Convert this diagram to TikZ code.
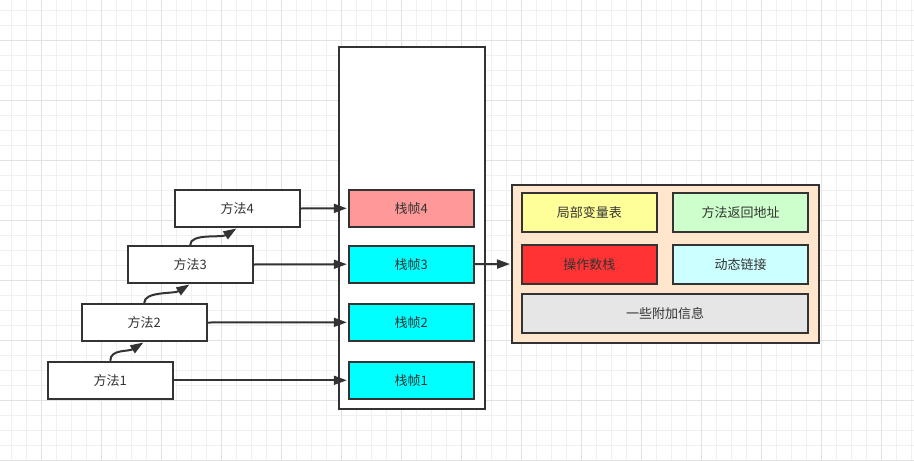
\documentclass[tikz,border=0pt]{standalone}
\usepackage{fontspec}
\newfontfamily\cjk{Noto Sans CJK SC}
\usetikzlibrary{arrows.meta}
\definecolor{ink}{HTML}{333333}
\definecolor{gridminor}{HTML}{F0F0F0}
\definecolor{gridmajor}{HTML}{E2E2E2}
\definecolor{framered}{HTML}{FF9999}
\definecolor{framecyan}{HTML}{00FFFF}
\definecolor{peach}{HTML}{FFE6CC}
\definecolor{localyellow}{HTML}{FFFF99}
\definecolor{retgreen}{HTML}{CCFFCC}
\definecolor{opred}{HTML}{FF3333}
\definecolor{dyncyan}{HTML}{CCFFFF}
\definecolor{extragray}{HTML}{E6E6E6}
\tikzset{
  box/.style={draw=ink, line width=2pt, fill=white, text=ink,
    font=\cjk\fontsize{13}{15}\selectfont},
  method/.style={box, minimum width=125pt, minimum height=37pt},
  frame/.style={box, minimum width=125pt, minimum height=37pt, fill=framecyan},
  part/.style={box, minimum width=135pt, minimum height=39pt},
  link/.style={draw=ink, line width=2pt, shorten >=1pt,
    -{Triangle[length=13pt,width=9pt]}}
}
\begin{document}
\begin{tikzpicture}[x=1pt,y=-1pt]
  \useasboundingbox (0,0) rectangle (914,461);
  % Grid
  \fill[white] (0,0) rectangle (914,461);
  \foreach \x in {11.7,26.7,...,914} \draw[gridminor,line width=1pt] (\x,0) -- (\x,461);
  \foreach \y in {10,25,...,461} \draw[gridminor,line width=1pt] (0,\y) -- (914,\y);
  \foreach \x in {41.7,101.7,...,914} \draw[gridmajor,line width=1pt] (\x,0) -- (\x,461);
  \foreach \y in {40,100,...,461} \draw[gridmajor,line width=1pt] (0,\y) -- (914,\y);
  % Stack
  \node[box, minimum width=146pt, minimum height=362pt] (stack) at (412,228) {};
  \node[frame, fill=framered] (f4) at (411.3,208.3) {栈帧4};
  \node[frame] (f3) at (411.3,264.2) {栈帧3};
  \node[frame] (f2) at (411.3,322.3) {栈帧2};
  \node[frame] (f1) at (411.3,380.3) {栈帧1};
  % Methods
  \node[method] (m4) at (237.2,208.5) {方法4};
  \node[method] (m3) at (190.2,264.5) {方法3};
  \node[method] (m2) at (144.2,322.5) {方法2};
  \node[method] (m1) at (110.3,380.3) {方法1};
  \draw[link] (m1.north) .. controls +(0,-12) and +(-16,10) .. (m2.south);
  \draw[link] (m2.north) .. controls +(0,-12) and +(-16,10) .. (m3.south);
  \draw[link] (m3.north) .. controls +(0,-12) and +(-16,10) .. (m4.south);
  \draw[link] (m4.east) -- (f4.west);
  \draw[link] (m3.east) -- (f3.west);
  \draw[link] (m2.east) -- (f2.west);
  \draw[link] (m1.east) -- (f1.west);
  % Frame detail
  \node[box, fill=peach, minimum width=307pt, minimum height=158pt] (detail) at (665.5,264) {};
  \node[part, fill=localyellow] (locals) at (589.3,212.3) {局部变量表};
  \node[part, fill=retgreen] (ret) at (740.5,212.3) {方法返回地址};
  \node[part, fill=opred] (ops) at (589.3,264.3) {操作数栈};
  \node[part, fill=dyncyan] (dyn) at (740.5,264.3) {动态链接};
  \node[part, fill=extragray, minimum width=286pt] (extra) at (665,313.2) {一些附加信息};
  \draw[link] (f3.east) -- (detail.west);
\end{tikzpicture}
\end{document}
